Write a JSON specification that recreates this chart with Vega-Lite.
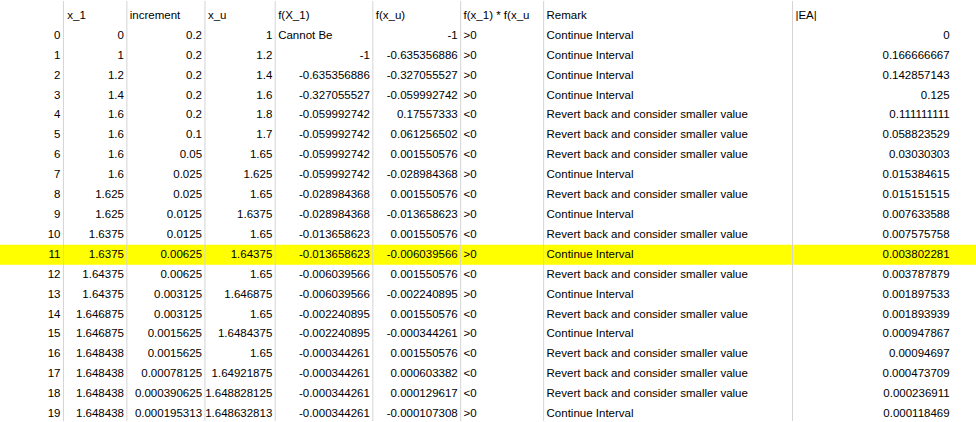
{
  "$schema": "https://vega.github.io/schema/vega-lite/v6.json",
  "width": 976,
  "height": 422,
  "autosize": {"type": "fit", "contains": "padding"},
  "padding": 0,
  "background": "white",
  "config": {"view": {"stroke": null}, "text": {"font": "Liberation Sans", "fontSize": 11.5, "color": "black", "baseline": "middle"}, "rule": {"color": "#d4d4d4"}},
  "data": {"values": [
      {"r": "h", "x1": "x_1", "inc": "increment", "xu": "x_u", "fx1": "f(X_1)", "fxu": "f(x_u)", "prod": "f(x_1) * f(x_u", "remark": "Remark", "ea": "|EA|"},
      {"r": "0", "i": "0", "x1": "0", "inc": "0.2", "xu": "1", "fx1": "Cannot Be", "fxu": "-1", "prod": ">0", "remark": "Continue Interval", "ea": "0"},
      {"r": "1", "i": "1", "x1": "1", "inc": "0.2", "xu": "1.2", "fx1": "-1", "fxu": "-0.635356886", "prod": ">0", "remark": "Continue Interval", "ea": "0.166666667"},
      {"r": "2", "i": "2", "x1": "1.2", "inc": "0.2", "xu": "1.4", "fx1": "-0.635356886", "fxu": "-0.327055527", "prod": ">0", "remark": "Continue Interval", "ea": "0.142857143"},
      {"r": "3", "i": "3", "x1": "1.4", "inc": "0.2", "xu": "1.6", "fx1": "-0.327055527", "fxu": "-0.059992742", "prod": ">0", "remark": "Continue Interval", "ea": "0.125"},
      {"r": "4", "i": "4", "x1": "1.6", "inc": "0.2", "xu": "1.8", "fx1": "-0.059992742", "fxu": "0.17557333", "prod": "<0", "remark": "Revert back and consider smaller value", "ea": "0.111111111"},
      {"r": "5", "i": "5", "x1": "1.6", "inc": "0.1", "xu": "1.7", "fx1": "-0.059992742", "fxu": "0.061256502", "prod": "<0", "remark": "Revert back and consider smaller value", "ea": "0.058823529"},
      {"r": "6", "i": "6", "x1": "1.6", "inc": "0.05", "xu": "1.65", "fx1": "-0.059992742", "fxu": "0.001550576", "prod": "<0", "remark": "Revert back and consider smaller value", "ea": "0.03030303"},
      {"r": "7", "i": "7", "x1": "1.6", "inc": "0.025", "xu": "1.625", "fx1": "-0.059992742", "fxu": "-0.028984368", "prod": ">0", "remark": "Continue Interval", "ea": "0.015384615"},
      {"r": "8", "i": "8", "x1": "1.625", "inc": "0.025", "xu": "1.65", "fx1": "-0.028984368", "fxu": "0.001550576", "prod": "<0", "remark": "Revert back and consider smaller value", "ea": "0.015151515"},
      {"r": "9", "i": "9", "x1": "1.625", "inc": "0.0125", "xu": "1.6375", "fx1": "-0.028984368", "fxu": "-0.013658623", "prod": ">0", "remark": "Continue Interval", "ea": "0.007633588"},
      {"r": "10", "i": "10", "x1": "1.6375", "inc": "0.0125", "xu": "1.65", "fx1": "-0.013658623", "fxu": "0.001550576", "prod": "<0", "remark": "Revert back and consider smaller value", "ea": "0.007575758"},
      {"r": "11", "i": "11", "x1": "1.6375", "inc": "0.00625", "xu": "1.64375", "fx1": "-0.013658623", "fxu": "-0.006039566", "prod": ">0", "remark": "Continue Interval", "ea": "0.003802281"},
      {"r": "12", "i": "12", "x1": "1.64375", "inc": "0.00625", "xu": "1.65", "fx1": "-0.006039566", "fxu": "0.001550576", "prod": "<0", "remark": "Revert back and consider smaller value", "ea": "0.003787879"},
      {"r": "13", "i": "13", "x1": "1.64375", "inc": "0.003125", "xu": "1.646875", "fx1": "-0.006039566", "fxu": "-0.002240895", "prod": ">0", "remark": "Continue Interval", "ea": "0.001897533"},
      {"r": "14", "i": "14", "x1": "1.646875", "inc": "0.003125", "xu": "1.65", "fx1": "-0.002240895", "fxu": "0.001550576", "prod": "<0", "remark": "Revert back and consider smaller value", "ea": "0.001893939"},
      {"r": "15", "i": "15", "x1": "1.646875", "inc": "0.0015625", "xu": "1.6484375", "fx1": "-0.002240895", "fxu": "-0.000344261", "prod": ">0", "remark": "Continue Interval", "ea": "0.000947867"},
      {"r": "16", "i": "16", "x1": "1.648438", "inc": "0.0015625", "xu": "1.65", "fx1": "-0.000344261", "fxu": "0.001550576", "prod": "<0", "remark": "Revert back and consider smaller value", "ea": "0.00094697"},
      {"r": "17", "i": "17", "x1": "1.648438", "inc": "0.00078125", "xu": "1.64921875", "fx1": "-0.000344261", "fxu": "0.000603382", "prod": "<0", "remark": "Revert back and consider smaller value", "ea": "0.000473709"},
      {"r": "18", "i": "18", "x1": "1.648438", "inc": "0.000390625", "xu": "1.648828125", "fx1": "-0.000344261", "fxu": "0.000129617", "prod": "<0", "remark": "Revert back and consider smaller value", "ea": "0.000236911"},
      {"r": "19", "i": "19", "x1": "1.648438", "inc": "0.000195313", "xu": "1.648632813", "fx1": "-0.000344261", "fxu": "-0.000107308", "prod": ">0", "remark": "Continue Interval", "ea": "0.000118469"}
  ]},
  "transform": [
    {"fold": ["i","x1","inc","xu","fx1","fxu","prod","remark","ea"], "as": ["c", "v"]},
    {"filter": "isValid(datum.v)"}
  ],
  "layer": [
    {
      "transform": [{"filter": "datum.r == '11' && datum.c == 'i'"}],
      "mark": {"type": "rect", "color": "#ffff00"},
      "encoding": {
        "y": {"field": "r", "type": "nominal",
          "scale": {"type": "band", "domain": ["h","0","1","2","3","4","5","6","7","8","9","10","11","12","13","14","15","16","17","18","19"], "range": [5, 423], "paddingInner": 0, "paddingOuter": 0},
          "axis": {"grid": true, "gridColor": "#d4d4d4", "tickBand": "extent", "labels": false, "ticks": false, "domain": false, "title": null}}
      }
    },
    {"data": {"values": [{}]}, "mark": "rule", "encoding": {"x": {"datum": 65, "type": "quantitative", "scale": {"domain": [0, 976]}, "axis": null}}},
    {"data": {"values": [{}]}, "mark": "rule", "encoding": {"x": {"datum": 130, "type": "quantitative"}}},
    {"data": {"values": [{}]}, "mark": "rule", "encoding": {"x": {"datum": 210, "type": "quantitative"}}},
    {"data": {"values": [{}]}, "mark": "rule", "encoding": {"x": {"datum": 282, "type": "quantitative"}}},
    {"data": {"values": [{}]}, "mark": "rule", "encoding": {"x": {"datum": 382, "type": "quantitative"}}},
    {"data": {"values": [{}]}, "mark": "rule", "encoding": {"x": {"datum": 472, "type": "quantitative"}}},
    {"data": {"values": [{}]}, "mark": "rule", "encoding": {"x": {"datum": 557, "type": "quantitative"}}},
    {"data": {"values": [{}]}, "mark": "rule", "encoding": {"x": {"datum": 812, "type": "quantitative"}}},
    {
      "encoding": {
        "y": {"field": "r", "type": "nominal", "axis": null},
        "text": {"field": "v"}
      },
      "layer": [
        {"transform": [{"filter": "datum.c == 'i'"}], "mark": {"type": "text", "align": "right"}, "encoding": {"x": {"datum": 62, "type": "quantitative"}}},
        {"transform": [{"filter": "datum.c == 'x1' && datum.r != 'h'"}], "mark": {"type": "text", "align": "right"}, "encoding": {"x": {"datum": 127, "type": "quantitative"}}},
        {"transform": [{"filter": "datum.c == 'x1' && datum.r == 'h'"}], "mark": {"type": "text", "align": "left"}, "encoding": {"x": {"datum": 69, "type": "quantitative"}}},
        {"transform": [{"filter": "datum.c == 'inc' && datum.r != 'h'"}], "mark": {"type": "text", "align": "right"}, "encoding": {"x": {"datum": 207, "type": "quantitative"}}},
        {"transform": [{"filter": "datum.c == 'inc' && datum.r == 'h'"}], "mark": {"type": "text", "align": "left"}, "encoding": {"x": {"datum": 133, "type": "quantitative"}}},
        {"transform": [{"filter": "datum.c == 'xu' && datum.r != 'h'"}], "mark": {"type": "text", "align": "right"}, "encoding": {"x": {"datum": 279, "type": "quantitative"}}},
        {"transform": [{"filter": "datum.c == 'xu' && datum.r == 'h'"}], "mark": {"type": "text", "align": "left"}, "encoding": {"x": {"datum": 213, "type": "quantitative"}}},
        {"transform": [{"filter": "datum.c == 'fx1' && datum.r != 'h' && !isNaN(toNumber(datum.v))"}], "mark": {"type": "text", "align": "right"}, "encoding": {"x": {"datum": 379, "type": "quantitative"}}},
        {"transform": [{"filter": "datum.c == 'fx1' && (datum.r == 'h' || isNaN(toNumber(datum.v)))"}], "mark": {"type": "text", "align": "left"}, "encoding": {"x": {"datum": 285, "type": "quantitative"}}},
        {"transform": [{"filter": "datum.c == 'fxu' && datum.r != 'h'"}], "mark": {"type": "text", "align": "right"}, "encoding": {"x": {"datum": 469, "type": "quantitative"}}},
        {"transform": [{"filter": "datum.c == 'fxu' && datum.r == 'h'"}], "mark": {"type": "text", "align": "left"}, "encoding": {"x": {"datum": 385, "type": "quantitative"}}},
        {"transform": [{"filter": "datum.c == 'prod'"}], "mark": {"type": "text", "align": "left"}, "encoding": {"x": {"datum": 475, "type": "quantitative"}}},
        {"transform": [{"filter": "datum.c == 'remark'"}], "mark": {"type": "text", "align": "left"}, "encoding": {"x": {"datum": 560, "type": "quantitative"}}},
        {"transform": [{"filter": "datum.c == 'ea' && datum.r != 'h'"}], "mark": {"type": "text", "align": "right"}, "encoding": {"x": {"datum": 973, "type": "quantitative"}}},
        {"transform": [{"filter": "datum.c == 'ea' && datum.r == 'h'"}], "mark": {"type": "text", "align": "left"}, "encoding": {"x": {"datum": 815, "type": "quantitative"}}}
      ]
    }
  ]
}
